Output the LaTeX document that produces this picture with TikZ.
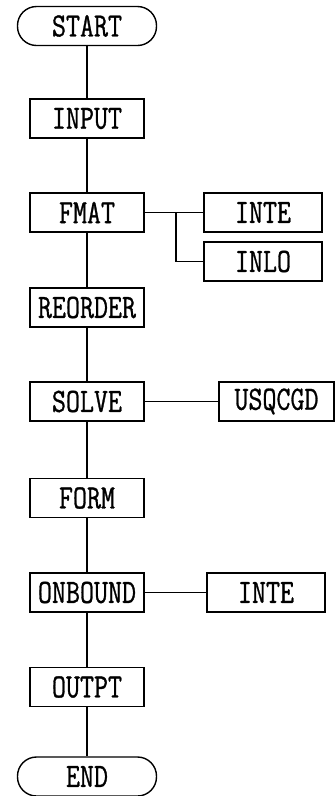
\documentclass[tikz,border=0pt]{standalone}
\usepackage{fontspec}
\setmonofont{Latin Modern Mono}[FakeStretch=0.8,FakeBold=0.8]
\begin{document}
\begin{tikzpicture}[
  x=1pt,y=-1pt,
  line width=1.4pt,
  box/.style={draw,minimum width=114pt,minimum height=39pt,inner sep=0pt,font=\fontsize{34}{34}\ttfamily},
  term/.style={box,minimum width=139pt,rounded corners=19pt},
  sub/.style={box,minimum width=118pt}
]
  \useasboundingbox (0,0) rectangle (335,796);
  % main column
  \node[term] (st) at (87,26) {START};
  \node[box] (ip) at (87,118.5) {INPUT};
  \node[box] (fm) at (87,212.5) {FMAT};
  \node[box] (ro) at (87,307.5) {REORDER};
  \node[box] (sv) at (87,401.5) {SOLVE};
  \node[box] (fo) at (87,498) {FORM};
  \node[box] (ob) at (87,592.5) {ONBOUND};
  \node[box] (op) at (87,687) {OUTPT};
  \node[term] (en) at (87,776.5) {END};
  % side routines
  \node[sub] (ie1) at (263,212.5) {INTE};
  \node[sub] (il) at (263,261.5) {INLO};
  \node[sub,minimum width=115pt] (us) at (276.5,401.5) {USQCGD};
  \node[sub] (ie2) at (266,592.5) {INTE};
  \coordinate (br) at (176,212.5);
  \draw (st)--(ip); \draw (ip)--(fm); \draw (fm)--(ro); \draw (ro)--(sv);
  \draw (sv)--(fo); \draw (fo)--(ob); \draw (ob)--(op); \draw (op)--(en);
  \draw (fm.east)--(ie1.west); \draw (br) |- (il.west);
  \draw (sv.east)--(us.west);
  \draw (ob.east)--(ie2.west);
\end{tikzpicture}
\end{document}
